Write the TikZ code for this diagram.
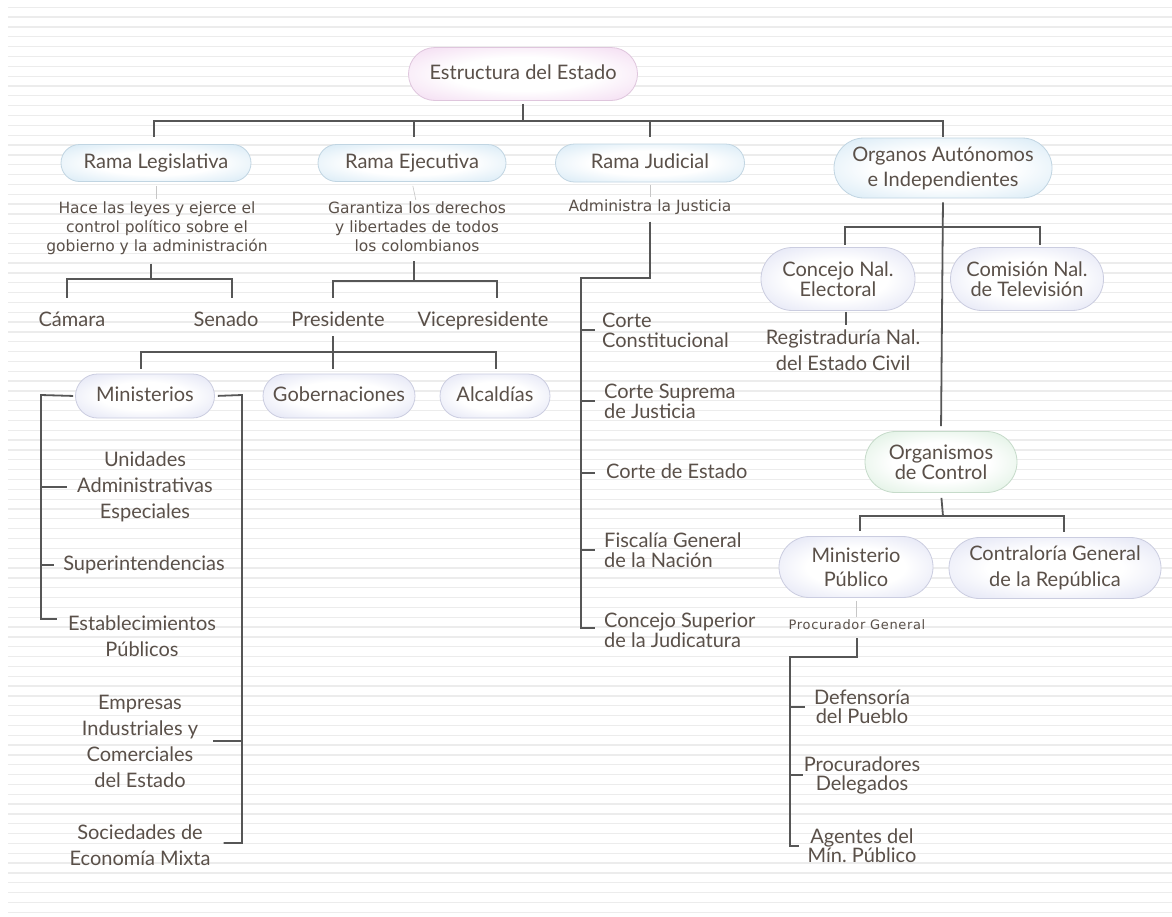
\documentclass[tikz,border=0pt]{standalone}
\usepackage{fontspec}
\setmainfont{Lato}
\newfontfamily\verdfont{DejaVu Sans}
\newfontfamily\spacedfont[LetterSpace=5]{DejaVu Sans}
\usepackage{tikz}
\usetikzlibrary{shapes.misc}
\usetikzlibrary{positioning}

\definecolor{ink}{HTML}{5A5049}
\definecolor{wire}{HTML}{565656}
\definecolor{rulegray}{HTML}{ECECEC}
\definecolor{skyedge}{HTML}{CCE4F3}
\definecolor{lavedge}{HTML}{D8DBF1}
\definecolor{roseedge}{HTML}{F0D2EE}
\definecolor{mintedge}{HTML}{D2EBD7}

\pgfdeclareradialshading{skyglow}{\pgfpoint{0bp}{0bp}}{color(0bp)=(white); color(16bp)=(white); color(40bp)=(skyedge); color(50bp)=(skyedge)}
\pgfdeclareradialshading{lavglow}{\pgfpoint{0bp}{0bp}}{color(0bp)=(white); color(16bp)=(white); color(40bp)=(lavedge); color(50bp)=(lavedge)}
\pgfdeclareradialshading{roseglow}{\pgfpoint{0bp}{0bp}}{color(0bp)=(white); color(16bp)=(white); color(40bp)=(roseedge); color(50bp)=(roseedge)}
\pgfdeclareradialshading{mintglow}{\pgfpoint{0bp}{0bp}}{color(0bp)=(white); color(16bp)=(white); color(40bp)=(mintedge); color(50bp)=(mintedge)}

\newcommand{\bodytxt}{\fontsize{20}{20}\selectfont}
\newcommand{\widetxt}{\fontsize{20}{26}\selectfont}
\newcommand{\notetxt}{\verdfont\fontsize{15.5}{19}\selectfont}

\tikzstyle{pill} = [rounded rectangle, text centered, align=center, text=ink, font=\bodytxt, inner sep=2pt, line width=0.8pt]
\tikzstyle{skypill} = [pill, shade, shading=skyglow, draw=skyedge!85!gray]
\tikzstyle{lavpill} = [pill, shade, shading=lavglow, draw=lavedge!85!gray]
\tikzstyle{rosepill} = [pill, shade, shading=roseglow, draw=roseedge!85!gray]
\tikzstyle{mintpill} = [pill, shade, shading=mintglow, draw=mintedge!85!gray]
\tikzstyle{oneline} = [text height=14pt, text depth=4pt]
\tikzstyle{entry} = [inner sep=1pt, align=center, text=ink, font=\bodytxt]
\tikzstyle{leftentry} = [inner sep=1pt, align=left, anchor=west, text=ink, font=\bodytxt]
\tikzstyle{note} = [inner sep=1pt, align=center, text=ink, font=\notetxt]
\tikzstyle{wireline} = [draw=wire, line width=1.8pt]
\tikzstyle{faint} = [draw=gray!45, line width=0.6pt]

\begin{document}
\begin{tikzpicture}[x=1pt, y=1pt]
        % paper with ruled lines
        \fill [white] (0,0) rectangle (1172,-916);
        \useasboundingbox (0,0) rectangle (1172,-916);
        \foreach \i in {0,...,92}
            \draw [rulegray, line width=1.3pt] (8,{-7.3-9.837*\i}) -- (1172,{-7.3-9.837*\i});

        % top and branches
        \node (estado) [rosepill, oneline, minimum width=233pt, minimum height=53pt] at (523,-74) {Estructura del Estado};
        \node (leg) [skypill, oneline, minimum width=194pt, minimum height=37pt] at (156,-163) {Rama Legislativa};
        \node (eje) [skypill, oneline, minimum width=192pt, minimum height=37pt] at (412,-163) {Rama Ejecutiva};
        \node (jud) [skypill, oneline, minimum width=193pt, minimum height=38pt] at (650,-163) {Rama Judicial};
        \node (org) [skypill, minimum width=222pt, minimum height=60pt, font=\fontsize{20}{25}\selectfont] at (943,-168) {Organos Autónomos\\e Independientes};

        \node (legdesc) [note] at (157,-228) {Hace las leyes y ejerce el\\control político sobre el\\gobierno y la administración};
        \node (ejedesc) [note] at (417,-227) {Garantiza los derechos\\y libertades de todos\\los colombianos};
        \node (juddesc) [note] at (650,-207) {Administra la Justicia};

        % legislativa and ejecutiva
        \node (cam) [entry, oneline] at (72,-321) {Cámara};
        \node (sen) [entry, oneline] at (226,-321) {Senado};
        \node (pres) [entry, oneline] at (338,-321) {Presidente};
        \node (vice) [entry, oneline] at (483,-321) {Vicepresidente};
        \node (min) [lavpill, oneline, minimum width=143pt, minimum height=44pt] at (145,-396) {Ministerios};
        \node (gob) [lavpill, oneline, minimum width=156pt, minimum height=44pt] at (339,-396) {Gobernaciones};
        \node (alc) [lavpill, oneline, minimum width=114pt, minimum height=44pt] at (495,-396) {Alcaldías};

        \node (unid) [entry, font=\widetxt] at (145,-487) {Unidades\\Administrativas\\Especiales};
        \node (sup) [entry, oneline] at (144,-565) {Superintendencias};
        \node (estab) [entry, font=\widetxt] at (142,-636) {Establecimientos\\Públicos};
        \node (empr) [entry, font=\widetxt] at (140,-741) {Empresas\\Industriales y\\Comerciales\\del Estado};
        \node (soc) [entry, font=\widetxt] at (140,-845) {Sociedades de\\Economía Mixta};

        % judicial
        \node (ccon) [leftentry] at (601,-330) {Corte\\Constitucional};
        \node (csup) [leftentry] at (603,-401) {Corte Suprema\\de Justicia};
        \node (cest) [leftentry, oneline] at (605,-473) {Corte de Estado};
        \node (fisc) [leftentry] at (603,-550) {Fiscalía General\\de la Nación};
        \node (csj) [leftentry] at (603,-630) {Concejo Superior\\de la Judicatura};

        % organos
        \node (cne) [lavpill, minimum width=158pt, minimum height=63pt] at (838,-279) {Concejo Nal.\\Electoral};
        \node (ctv) [lavpill, minimum width=157pt, minimum height=63pt] at (1027,-279) {Comisión Nal.\\de Televisión};
        \node (reg) [entry, font=\widetxt] at (843,-350) {Registraduría Nal.\\del Estado Civil};
        \node (ctrl) [mintpill, minimum width=156pt, minimum height=61pt] at (941,-462) {Organismos\\de Control};
        \node (mpub) [lavpill, minimum width=158pt, minimum height=61pt, font=\fontsize{20}{24}\selectfont] at (856,-567) {Ministerio\\Público};
        \node (contr) [lavpill, minimum width=216pt, minimum height=61pt, font=\widetxt] at (1055,-568) {Contraloría General\\de la República};
        \node (proc) [note, font=\spacedfont\fontsize{13}{14}\selectfont] at (857,-625) {Procurador General};
        \node (def) [entry, font=\fontsize{20}{19}\selectfont] at (862,-707) {Defensoría\\del Pueblo};
        \node (prd) [entry, font=\fontsize{20}{19}\selectfont] at (862,-775) {Procuradores\\Delegados};
        \node (agen) [entry, font=\fontsize{20}{19}\selectfont] at (862,-846) {Agentes del\\Mín.\ Público};

        \coordinate (topbar) at (523,-121);
        \coordinate (legbar) at (151,-279);
        \coordinate (ejebar) at (414,-281);
        \coordinate (presbar) at (333,-352);
        \coordinate (minL) at (41,-395);
        \coordinate (minR) at (242,-395);
        \coordinate (judbar) at (581,-278);
        \coordinate (orgbar) at (943,-227);
        \coordinate (ctrlbar) at (943,-516);
        \coordinate (procbar) at (790,-657);

        \draw [wireline, shorten <=3pt] (estado.south) -- (topbar);
        \draw [wireline, shorten >=7pt] (topbar) -| ([xshift=-2pt]leg.north);
        \draw [wireline, shorten >=7pt] (topbar) -| ([xshift=2pt]eje.north);
        \draw [wireline, shorten >=7pt] (topbar) -| (jud.north);
        \draw [wireline, shorten >=1pt] (topbar) -| (org.north);

        \draw [faint, shorten <=4pt, shorten >=1pt] (leg.south) -- (leg.south |- legdesc.north);
        \draw [faint, shorten <=4pt, shorten >=1pt] (eje.south) -- ([xshift=4pt]eje.south |- ejedesc.north);
        \draw [faint, shorten <=3pt, shorten >=1pt] (jud.south) -- (jud.south |- juddesc.north);

        \draw [wireline, shorten <=8pt] (legdesc.south -| legbar) -- (legbar);
        \draw [wireline, shorten >=13pt] (legbar) -| ([xshift=-5pt]cam.north);
        \draw [wireline, shorten >=13pt] (legbar) -| ([xshift=6pt]sen.north);
        \draw [wireline, shorten <=8pt] (ejedesc.south -| ejebar) -- (ejebar);
        \draw [wireline, shorten >=13pt] (ejebar) -| ([xshift=-5pt]pres.north);
        \draw [wireline, shorten >=13pt] (ejebar) -| ([xshift=14pt]vice.north);

        \draw [wireline, shorten <=5pt, shorten >=5pt] (pres.south -| presbar) -- (gob.north -| presbar);
        \draw [wireline, shorten >=5pt] (presbar) -| ([xshift=-4pt]min.north);
        \draw [wireline, shorten >=5pt] (presbar) -| ([xshift=1pt]alc.north);

        \draw [wireline, shorten <=2pt] (min.west) -- (minL) |- ([xshift=-10pt,yshift=17pt]estab.west);
        \draw [wireline, shorten >=9pt] (minL |- unid.west) -- (unid.west);
        \draw [wireline, shorten >=8pt] (minL |- sup.west) -- (sup.west);
        \draw [wireline, shorten <=3pt] (min.east) -- (minR) |- ([xshift=12pt,yshift=2pt]soc.east);
        \draw [wireline] (minR |- empr.east) -- ([xshift=14pt]empr.east);

        \draw [wireline, shorten <=6pt] (juddesc.south) -- (juddesc.south |- judbar) -- (judbar) |- ([xshift=-8pt,yshift=2pt]csj.west);
        \draw [wireline] (judbar |- ccon.west) -- ([xshift=-6pt]ccon.west);
        \draw [wireline] (judbar |- csup.west) -- ([xshift=-8pt]csup.west);
        \draw [wireline] (judbar |- cest.west) -- ([xshift=-10pt]cest.west);
        \draw [wireline] (judbar |- fisc.west) -- ([xshift=-8pt]fisc.west);

        \draw [wireline, shorten <=4pt, shorten >=5pt] (org.south) -- (ctrl.north);
        \draw [wireline, shorten >=2pt] (orgbar) -| ([xshift=7pt]cne.north);
        \draw [wireline, shorten >=2pt] (orgbar) -| ([xshift=13pt]ctv.north);
        \draw [wireline, shorten <=1pt, shorten >=3pt] ([xshift=8pt]cne.south) -- ([xshift=8pt]cne.south |- reg.north);

        \draw [wireline, shorten <=5pt] (ctrl.south) -- (ctrlbar);
        \draw [wireline, shorten >=5pt] (ctrlbar) -| ([xshift=4pt]mpub.north);
        \draw [wireline, shorten >=5pt] (ctrlbar) -| ([xshift=9pt]contr.north);

        \draw [faint, shorten <=3pt, shorten >=2pt] (mpub.south) -- (mpub.south |- proc.north);
        \draw [wireline, shorten <=7pt] (proc.south) -- (proc.south |- procbar) -- (procbar) |- ([xshift=-7pt]agen.west);
        \draw [wireline] (procbar |- def.west) -- ([xshift=-8pt]def.west);
        \draw [wireline] (procbar |- prd.west) -- (prd.west);
\end{tikzpicture}
\end{document}
